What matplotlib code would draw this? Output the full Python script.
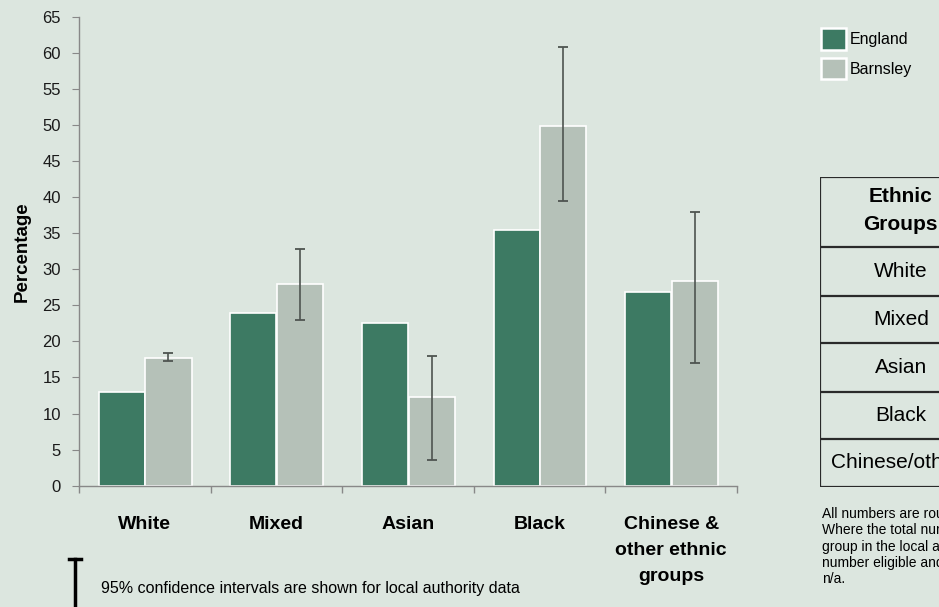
import numpy as np
import matplotlib.pyplot as plt
from matplotlib.lines import Line2D
from matplotlib.patches import Patch

plt.rcParams['font.family'] = ['Liberation Sans', 'DejaVu Sans']

# data
groups = ['White', 'Mixed', 'Asian', 'Black', 'Chinese &\nother ethnic\ngroups']
england = [13.0, 23.9, 22.6, 35.5, 26.9]
barnsley = [17.7, 27.9, 12.3, 49.8, 28.4]
ci_low = [17.3, 23.0, 3.6, 39.4, 17.0]
ci_high = [18.4, 32.8, 18.0, 60.8, 38.0]
table_rows = ['White', 'Mixed', 'Asian', 'Black', 'Chinese/other']
notes = ['All numbers are rounded to the nearest whole number.',
         'Where the total number eligible in an ethnic',
         'group in the local authority is less than 5, the',
         'number eligible and percentage are shown as',
         'n/a.']

bg = '#dce6df'
c_eng = '#3d7a63'
c_bar = '#b5c1b8'
W, H = 939, 607

fig = plt.figure(figsize=(9.39, 6.07), dpi=100, facecolor=bg)
ax = fig.add_axes([79/W, 1-485.7/H, (737-79)/W, (485.7-16.7)/H])
ax.set_facecolor(bg)

x = np.arange(len(groups))
ax.bar(x - 0.175, england, width=0.35, color=c_eng, edgecolor='white', linewidth=1.2)
ax.bar(x + 0.18, barnsley, width=0.35, color=c_bar, edgecolor='white', linewidth=1.2)
b = np.array(barnsley)
err = [b - np.array(ci_low), np.array(ci_high) - b]
ax.errorbar(x + 0.18, barnsley, yerr=err, fmt='none', ecolor='#4e5450',
            elinewidth=1.2, capsize=3.5, capthick=1.3)

ax.set_xlim(-0.5, 4.5)
ax.set_ylim(0, 65)
ax.set_yticks(range(0, 66, 5))
ax.set_xticks(x)
ax.set_xticklabels(groups, fontsize=14, fontweight='bold', linespacing=1.7, va='top')
ax.set_xticks(np.arange(-0.5, 4.6, 1), minor=True)
ax.tick_params(axis='x', which='major', length=0, pad=22)
ax.tick_params(axis='x', which='minor', length=5, color='#888888', width=1)
ax.tick_params(axis='y', length=5, color='#888888', labelsize=12, labelcolor='#1a1a1a', pad=8)
for s in ['top', 'right']:
    ax.spines[s].set_visible(False)
for s in ['left', 'bottom']:
    ax.spines[s].set_color('#888888')
    ax.spines[s].set_linewidth(1)
ax.set_ylabel('Percentage', fontsize=13.5, fontweight='bold')
ax.yaxis.set_label_coords(-0.073, 0.5)

# legend
handles = [Patch(facecolor=c_eng, edgecolor='white', linewidth=1.8),
           Patch(facecolor=c_bar, edgecolor='white', linewidth=1.8)]
fig.legend(handles, ['England', 'Barnsley'], loc='upper left',
           bbox_to_anchor=(807/W, 1-14/H), frameon=False, fontsize=11.5,
           handlelength=1.55, handleheight=1.7, handletextpad=0.25, labelspacing=0.5)

# table on the right, cut off by the image edge
tab = fig.add_axes([820/W, 1-487/H, 200/W, (487-177)/H])
tab.set_xlim(0, 200)
tab.set_ylim(487, 177)
tab.axis('off')
edges = [177, 247, 296, 343, 392, 439, 487]
for yy in edges:
    tab.add_line(Line2D([0, 200], [yy, yy], color='#2a2a2a', lw=1.6))
tab.add_line(Line2D([0, 0], [177, 487], color='#2a2a2a', lw=1.6))
tab.text(80, 211, 'Ethnic\nGroups', ha='center', va='center', fontsize=15,
         fontweight='bold', linespacing=1.6)
for i, r in enumerate(table_rows):
    cy = (edges[i+1] + edges[i+2]) / 2
    if i < 4:
        tab.text(81, cy, r, ha='center', va='center', fontsize=15)
    else:
        tab.text(11, cy, r, ha='left', va='center', fontsize=15)

for i, line in enumerate(notes):
    fig.text(822/W, 1-(514 + 16.3*i)/H, line, fontsize=10, va='center', ha='left')

# confidence interval key
fig.add_artist(Line2D([75/W, 75/W], [1-607/H, 1-559/H], color='black', lw=2.5))
fig.add_artist(Line2D([69/W, 81/W], [1-559/H, 1-559/H], color='black', lw=2.5))
fig.text(101/W, 1-588/H, '95% confidence intervals are shown for local authority data',
         fontsize=11.5, va='center', ha='left')

fig.savefig('out.png', dpi=100, facecolor=bg)
